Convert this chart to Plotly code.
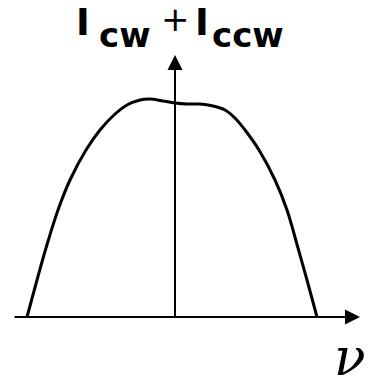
import plotly.graph_objects as go

# Total intensity of the two counter-propagating beams versus detuning (arbitrary units)
nu = [-148, -138, -129, -117, -105, -89, -75, -61, -48, -35, -25, -12, 0,
      12, 25, 38, 50, 60, 70, 84, 100, 112, 123, 132, 142]
intensity = [0, 37, 69, 107, 137, 167, 187, 202, 212, 217, 218, 216, 214,
             213, 213, 211, 207, 199, 187, 167, 137, 107, 69, 37, 0]

# Axis extents (same units as the data)
x_axis_start, x_axis_end = -162, 185
y_axis_start, y_axis_end = -1, 262

# Axis label pieces: (text, x centre, y of text box bottom, font size, weight)
label_pieces = [
    ("I", -92, 271, 37, "bold"),
    ("cw", -50, 260, 34, "bold"),
    ("+", 0, 276, 34, "normal"),
    ("I", 27, 271, 37, "bold"),
    ("ccw", 73, 260, 34, "bold"),
]
nu_label = "ν"

fig = go.Figure()

fig.add_trace(go.Scatter(
    x=nu, y=intensity, mode="lines",
    line=dict(color="black", width=3, shape="spline", smoothing=1.0),
    hoverinfo="skip", showlegend=False,
))

# Horizontal (ν) axis with arrow
fig.add_annotation(
    x=x_axis_end, y=0, ax=x_axis_start, ay=0,
    xref="x", yref="y", axref="x", ayref="y",
    text="", showarrow=True, arrowhead=2, arrowsize=1.5, arrowwidth=2,
    arrowcolor="black", standoff=0,
)
# Vertical (intensity) axis with arrow
fig.add_annotation(
    x=0, y=y_axis_end, ax=0, ay=y_axis_start,
    xref="x", yref="y", axref="x", ayref="y",
    text="", showarrow=True, arrowhead=2, arrowsize=1.5, arrowwidth=2,
    arrowcolor="black", standoff=0,
)

for text, xc, yb, size, weight in label_pieces:
    fig.add_annotation(
        x=xc, y=yb, xref="x", yref="y",
        text=text, showarrow=False, xanchor="center", yanchor="bottom",
        font=dict(family="DejaVu Sans", size=size, color="black", weight=weight),
    )

fig.add_annotation(
    x=175, y=-40, xref="x", yref="y",
    text=nu_label, showarrow=False, xanchor="center", yanchor="middle",
    font=dict(family="DejaVu Serif", size=52, color="black", style="italic"),
)

fig.update_layout(
    width=376, height=389, autosize=False,
    margin=dict(l=0, r=0, t=0, b=0, pad=0),
    paper_bgcolor="white", plot_bgcolor="white",
    xaxis=dict(range=[-175, 201], visible=False, fixedrange=True),
    yaxis=dict(range=[-72, 317], visible=False, fixedrange=True),
    showlegend=False,
)

fig.write_html("out.html", config={"displayModeBar": False})
